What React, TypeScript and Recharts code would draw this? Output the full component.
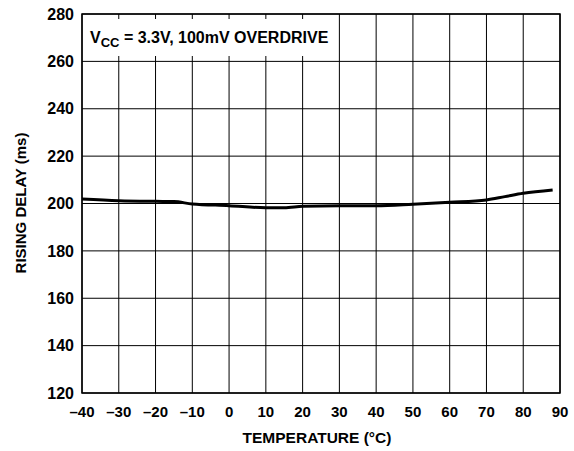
import { CartesianGrid, Line, LineChart, ReferenceArea, XAxis, YAxis } from 'recharts';

const temps = [-40, -30, -20, -15, -10, 0, 10, 15, 20, 30, 40, 50, 60, 70, 75, 80, 88];
const delay = [201.9, 201.2, 200.9, 200.8, 199.8, 199.1, 198.2, 198.2, 198.8, 199.1, 199.1, 199.7, 200.5, 201.5, 202.9, 204.3, 205.7];
const xTicks = [-40, -30, -20, -10, 0, 10, 20, 30, 40, 50, 60, 70, 80, 90];
const yTicks = [120, 140, 160, 180, 200, 220, 240, 260, 280];

const data = temps.map((t, i) => ({ t, d: delay[i] }));

const font = '"Liberation Sans", Arial, Helvetica, sans-serif';
const fmtX = (v: number) => (v < 0 ? '\u2013' + Math.abs(v) : String(v));

export default function App() {
  return (
    <div style={{ position: 'absolute', left: 0, top: 0, width: 574, height: 451, background: '#fff', fontFamily: font }}>
      <LineChart width={574} height={451} data={data} margin={{ top: 14, right: 14, bottom: 0, left: 0 }}>
        <CartesianGrid stroke="#000" strokeWidth={1} />
        <XAxis
          dataKey="t"
          type="number"
          domain={[-40, 90]}
          ticks={xTicks}
          tickFormatter={fmtX}
          interval={0}
          height={58}
          tickLine={false}
          tickSize={0}
          tickMargin={13}
          axisLine={false}
          tick={{ fontSize: 15, fontWeight: 'bold', fill: '#000', fontFamily: font }}
          label={{
            content: () => (
              <text x={317} y={443} textAnchor="middle" fontSize={15.5} fontWeight="bold" fill="#000" fontFamily={font}>
                TEMPERATURE (°C)
              </text>
            ),
          }}
        />
        <YAxis
          type="number"
          domain={[120, 280]}
          ticks={yTicks}
          interval={0}
          width={82}
          tickLine={false}
          tickSize={0}
          tickMargin={8}
          axisLine={false}
          tick={{ fontSize: 16, fontWeight: 'bold', fill: '#000', fontFamily: font }}
          label={{
            content: () => (
              <text
                x={26}
                y={203}
                textAnchor="middle"
                transform="rotate(-90 26 203)"
                fontSize={15}
                fontWeight="bold"
                fill="#000"
                fontFamily={font}
              >
                RISING DELAY (ms)
              </text>
            ),
          }}
        />
        <ReferenceArea x1={-40} x2={90} y1={120} y2={280} fill="none" stroke="#000" strokeWidth={1.5} ifOverflow="visible" />
        <Line
          dataKey="d"
          type="monotone"
          stroke="#000"
          strokeWidth={3}
          dot={false}
          isAnimationActive={false}
        />
      </LineChart>
      <div
        style={{
          position: 'absolute',
          left: 83,
          top: 19,
          width: 255,
          height: 37,
          background: '#fff',
          fontSize: 16,
          fontWeight: 'bold',
          color: '#000',
          lineHeight: '37px',
          paddingLeft: 7,
          boxSizing: 'border-box',
          whiteSpace: 'nowrap',
        }}
      >
        V<sub style={{ fontSize: 13, verticalAlign: '-4px', lineHeight: 0 }}>CC</sub> = 3.3V, 100mV OVERDRIVE
      </div>
    </div>
  );
}
